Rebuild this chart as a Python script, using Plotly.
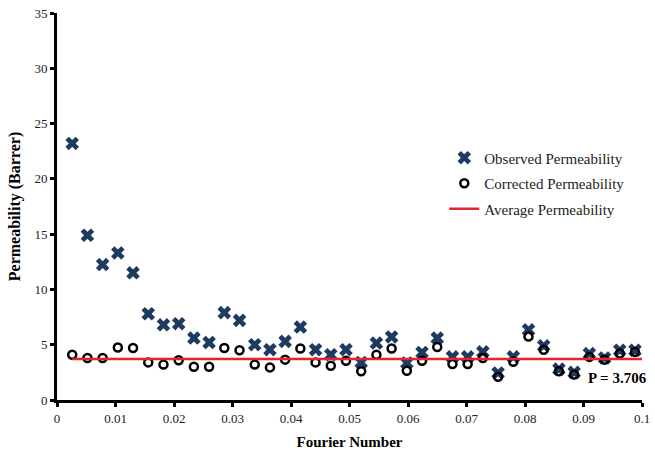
import plotly.graph_objects as go

fourier = [0.0026, 0.0052, 0.0078, 0.0104, 0.0130, 0.0156, 0.0182, 0.0208, 0.0234, 0.0260,
           0.0286, 0.0312, 0.0338, 0.0364, 0.0390, 0.0416, 0.0442, 0.0468, 0.0494, 0.0520,
           0.0546, 0.0572, 0.0598, 0.0624, 0.0650, 0.0676, 0.0702, 0.0728, 0.0754, 0.0780,
           0.0806, 0.0832, 0.0858, 0.0884, 0.0910, 0.0936, 0.0962, 0.0988]
observed = [23.2, 14.9, 12.25, 13.3, 11.5, 7.8, 6.8, 6.9, 5.6, 5.2,
            7.9, 7.2, 5.0, 4.55, 5.3, 6.6, 4.55, 4.1, 4.55, 3.4,
            5.15, 5.7, 3.35, 4.3, 5.6, 3.9, 3.9, 4.35, 2.45, 3.9,
            6.35, 4.9, 2.8, 2.5, 4.2, 3.8, 4.5, 4.5]
corrected = [4.1, 3.8, 3.8, 4.75, 4.7, 3.4, 3.2, 3.6, 3.0, 3.0,
             4.7, 4.5, 3.2, 2.95, 3.65, 4.65, 3.4, 3.1, 3.55, 2.6,
             4.1, 4.65, 2.65, 3.55, 4.8, 3.25, 3.25, 3.8, 2.1, 3.45,
             5.75, 4.55, 2.6, 2.3, 3.9, 3.65, 4.2, 4.35]
avg_x = [0.0026, 0.1]
avg_p = 3.706
x_ticks = [0, 0.01, 0.02, 0.03, 0.04, 0.05, 0.06, 0.07, 0.08, 0.09, 0.1]
x_tick_text = ["0", "0.01", "0.02", "0.03", "0.04", "0.05", "0.06", "0.07", "0.08", "0.09", "0.1"]
y_ticks = [0, 5, 10, 15, 20, 25, 30, 35]

serif = "Liberation Serif, DejaVu Serif, serif"

fig = go.Figure()
fig.add_trace(go.Scatter(
    x=fourier, y=observed, mode="markers", name="Observed Permeability",
    legendgroup="a",
    marker=dict(symbol="x", size=12, color="#1F3A60", line=dict(width=0)),
))
fig.add_trace(go.Scatter(
    x=fourier, y=corrected, mode="markers", name="Corrected Permeability",
    legendgroup="b",
    marker=dict(symbol="circle-open", size=8, color="black", line=dict(width=2.5, color="black")),
))
fig.add_trace(go.Scatter(
    x=avg_x, y=[avg_p, avg_p], mode="lines", name="Average Permeability",
    legendgroup="c",
    line=dict(color="#E3262B", width=2.5),
))

fig.add_annotation(
    x=0.0905, y=2.0, xref="x", yref="y", text="<b>P = 3.706</b>",
    showarrow=False, xanchor="left", yanchor="middle",
    font=dict(family=serif, size=15, color="black"),
)

fig.update_layout(
    width=655, height=452,
    margin=dict(l=57, r=13, t=13, b=52),
    paper_bgcolor="white", plot_bgcolor="white",
    showlegend=True,
    legend=dict(
        x=0.662, y=0.668, xanchor="left", yanchor="top",
        font=dict(family=serif, size=15, color="#222"),
        bgcolor="rgba(0,0,0,0)", traceorder="grouped", tracegroupgap=3,
        itemwidth=30,
    ),
    xaxis=dict(
        range=[0, 0.1], tickvals=x_ticks, ticktext=x_tick_text,
        showgrid=False, zeroline=False, automargin=False,
        ticklabeloverflow="allow",
        showline=True, linecolor="black", linewidth=3,
        ticks="outside", ticklen=4, tickwidth=3, tickcolor="black",
        tickfont=dict(family=serif, size=13, color="#222"),
        title=dict(text="<b>Fourier Number</b>", font=dict(family=serif, size=15, color="black"), standoff=12),
    ),
    yaxis=dict(
        range=[0, 35], tickvals=y_ticks,
        showgrid=False, zeroline=False, automargin=False,
        ticklabeloverflow="allow",
        showline=True, linecolor="black", linewidth=3,
        ticks="outside", ticklen=4, tickwidth=3, tickcolor="black",
        tickfont=dict(family=serif, size=13, color="#222"),
        title=dict(text="<b>Permeability (Barrer)</b>", font=dict(family=serif, size=16, color="black"), standoff=10),
    ),
)

fig.write_html("out.html", config={"displayModeBar": False},
               post_script="document.body.style.margin='0px';")
